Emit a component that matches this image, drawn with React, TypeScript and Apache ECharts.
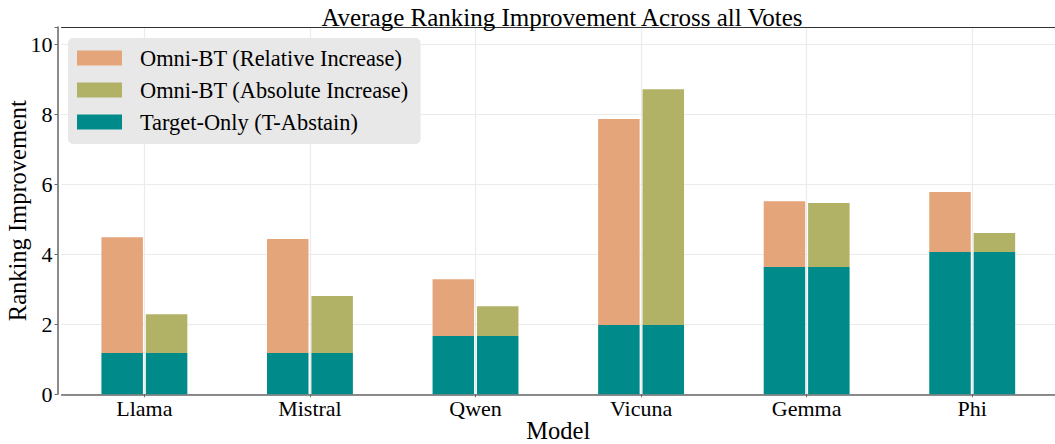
import React, { useEffect, useRef } from "react";
import * as echarts from "echarts";

const categories = ["Llama", "Mistral", "Qwen", "Vicuna", "Gemma", "Phi"];
const targetOnly = [1.18, 1.18, 1.67, 1.98, 3.64, 4.07];
const relativeTotal = [4.49, 4.44, 3.29, 7.87, 5.52, 5.78];
const absoluteTotal = [2.29, 2.81, 2.52, 8.72, 5.47, 4.61];
const yTicks = [0, 2, 4, 6, 8, 10];

const relativeInc = relativeTotal.map((v, i) => +(v - targetOnly[i]).toFixed(2));
const absoluteInc = absoluteTotal.map((v, i) => +(v - targetOnly[i]).toFixed(2));

const FONT = "Liberation Serif";
const C_TEAL = "#008B8A";
const C_ORANGE = "#E3A579";
const C_OLIVE = "#B2B267";

export default function App() {
  const ref = useRef<HTMLDivElement>(null);
  useEffect(() => {
    const chart = echarts.init(ref.current!, null, { renderer: "svg" });
    const barCommon = { type: "bar", barWidth: 41.5, barGap: "7%" };
    chart.setOption({
      animation: false,
      textStyle: { fontFamily: FONT },
      title: {
        text: "Average Ranking Improvement Across all Votes",
        left: 557,
        textAlign: "center",
        top: 0,
        textStyle: { fontFamily: FONT, fontSize: 25, fontWeight: "normal", color: "#000" },
      },
      legend: {
        orient: "vertical",
        left: 68,
        top: 38,
        data: ["Omni-BT (Relative Increase)", "Omni-BT (Absolute Increase)", "Target-Only (T-Abstain)"],
        itemWidth: 45,
        itemHeight: 15,
        itemGap: 6,
        padding: [7, 12, 9, 9],
        backgroundColor: "#E8E8E8",
        borderRadius: 5,
        icon: "rect",
        textStyle: { fontFamily: FONT, fontSize: 22.4, color: "#000", lineHeight: 26, padding: [0, 0, 0, 13] },
      },
      grid: { left: 61.6, right: 0, top: 27, bottom: 49.7, containLabel: false, outerBoundsMode: "none" },
      xAxis: [
        {
          type: "category",
          data: categories,
          name: "Model",
          nameLocation: "middle",
          nameGap: 24,
          nameMoveOverlap: false,
          nameTextStyle: { fontFamily: FONT, fontSize: 24.5, color: "#000", verticalAlign: "top" },
          axisLine: { show: true, lineStyle: { color: "#666", width: 1.5 } },
          axisTick: { show: true, alignWithLabel: true, length: 3, lineStyle: { color: "#666" } },
          axisLabel: { fontFamily: FONT, fontSize: 22, color: "#000", margin: 3 },
          splitLine: { show: true, alignWithLabel: true, lineStyle: { color: "#EBEBEB", width: 1.2 } },
        },
        {
          type: "category",
          data: categories,
          position: "top",
          axisLine: { show: true, lineStyle: { color: "#333", width: 1.2 } },
          axisTick: { show: false },
          axisLabel: { show: false },
          splitLine: { show: false },
        },
      ],
      yAxis: {
        type: "value",
        min: 0,
        max: 10.5,
        interval: 2,
        offset: 4,
        name: "Ranking Improvement",
        nameLocation: "middle",
        nameGap: 28,
        nameMoveOverlap: false,
        nameTextStyle: { fontFamily: FONT, fontSize: 24.5, color: "#000" },
        axisLine: { show: true, lineStyle: { color: "#666", width: 1.5 } },
        axisTick: { show: true, length: 3, lineStyle: { color: "#666" } },
        axisLabel: {
          fontFamily: FONT,
          fontSize: 22,
          color: "#000",
          margin: 5,
          formatter: (v: number) => (yTicks.includes(v) ? String(v) : ""),
        },
        splitLine: { show: true, lineStyle: { color: "#EBEBEB", width: 1.2 } },
      },
      series: [
        { ...barCommon, name: "Target-Only (T-Abstain)", stack: "rel", data: targetOnly, itemStyle: { color: C_TEAL } },
        { ...barCommon, name: "Omni-BT (Relative Increase)", stack: "rel", data: relativeInc, itemStyle: { color: C_ORANGE } },
        { ...barCommon, name: "Target-Only (T-Abstain)", stack: "abs", data: targetOnly, itemStyle: { color: C_TEAL } },
        { ...barCommon, name: "Omni-BT (Absolute Increase)", stack: "abs", data: absoluteInc, itemStyle: { color: C_OLIVE } },
      ],
    });
    return () => chart.dispose();
  }, []);
  return <div ref={ref} style={{ width: 1055, height: 444, position: "absolute", left: 0, top: 0 }} />;
}
